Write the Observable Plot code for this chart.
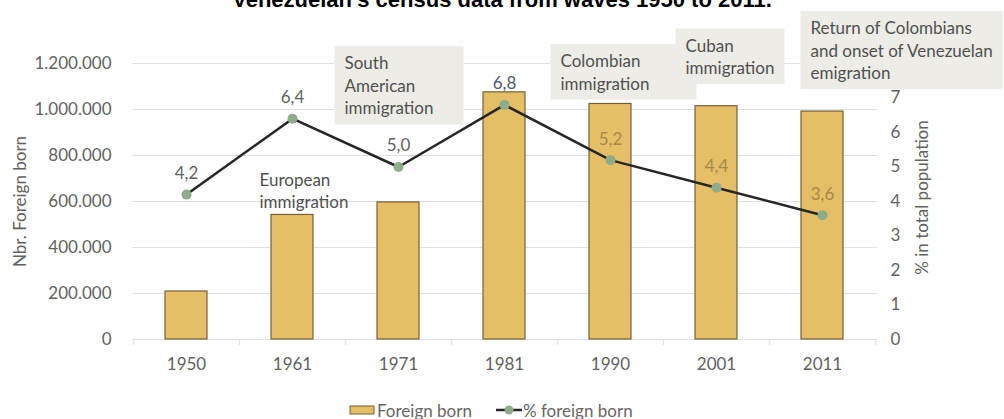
<!DOCTYPE html>
<html>
<head>
<meta charset="utf-8">
<script src="https://cdn.jsdelivr.net/npm/d3@7"></script>
<script src="https://cdn.jsdelivr.net/npm/@observablehq/plot@0.6"></script>
<style>
  html, body { margin: 0; padding: 0; background: #fff; overflow: hidden; }
  #wrap { position: relative; width: 1004px; height: 419px; font-family: Lato, "Open Sans", sans-serif; }
  #chart { position: absolute; left: 0; top: 0; }
  #title { position: absolute; left: 0; top: -10.6px; width: 1004px; text-align: center;
           font: bold 22px/22px "Liberation Sans", Arial, sans-serif; color: #000; white-space: nowrap; }
  #legend { position: absolute; left: 349px; top: 400px; height: 20px; display: flex; align-items: center;
            font-size: 17px; color: #666; white-space: nowrap; }
  #legend .item { display: flex; align-items: center; }
  #legend svg { display: block; }
</style>
</head>
<body>
<div id="wrap">
  <div id="chart"></div>
  <div id="title"></div>
  <div id="legend"></div>
</div>
<script>
// ---------- data ----------
const titleText = "Venezuelan's census data from waves 1950 to 2011.";
const years = ["1950", "1961", "1971", "1981", "1990", "2001", "2011"];
const foreignBorn = [208731, 541563, 596000, 1074629, 1024121, 1014318, 991000];
const pctForeign = [4.2, 6.4, 5.0, 6.8, 5.2, 4.4, 3.6];
const leftTicks = [0, 200000, 400000, 600000, 800000, 1000000, 1200000];
const rightTicks = [0, 1, 2, 3, 4, 5, 6, 7];
const rightMax = 8; // right axis top matching left 1.200.000
const leftMax = 1200000;
const leftAxisLabel = "Nbr. Foreign born";
const rightAxisLabel = "% in total population";
const seriesNames = ["Foreign born", "% foreign born"];

const annotationTexts = [
  "European\nimmigration",
  "South\nAmerican\nimmigration",
  "Colombian\nimmigration",
  "Cuban\nimmigration",
  "Return of Colombians\nand onset of Venezuelan\nemigration"
];
const annotationYears = ["1961", "1971", "1990", "2001", "2011"];
const annotationLevels = [739000, 1245000, 1255000, 1322000, 1398000];

// ---------- styling / layout ----------
const W = 1004, H = 419;
const mL = 132, mR = 127, mT = 63, mB = 80;
const barFill = "#e5bf66", barStroke = "#75613a";
const lineColor = "#262626", dotColor = "#8fab8c";
const gridColor = "#e0e0e0", textColor = "#626262";
const boxFill = "#edece6";
const annotDx = [-33, -54, -50, -31, -12];
const annotBoxed = [false, true, true, true, true];
const boxPadRight = [0, 30, 47, 10, 10];
const boxPad = {l: 10, t: 6, b: 6};

const pctFactor = leftMax / rightMax;
const locale = d3.formatLocale({decimal: ",", thousands: ".", grouping: [3], currency: ["", ""]});
const fmtInt = locale.format(",d");
const fmtPct = locale.format(".1f");

const data = years.map((y, i) => ({year: y, foreign: foreignBorn[i], pct: pctForeign[i], i}));
const step = (W - mL - mR) / years.length;

const annotMarks = annotationTexts.map((t, i) =>
  Plot.text([t], {
    x: () => annotationYears[i], y: () => annotationLevels[i],
    text: d => d, textAnchor: "start", lineAnchor: "top", lineHeight: 1.33,
    dx: annotDx[i], fill: "#505050", fontSize: 17
  })
);

const svg = Plot.plot({
  width: W, height: H,
  marginLeft: mL, marginRight: mR, marginTop: mT, marginBottom: mB,
  style: {fontFamily: "Lato, 'Open Sans', sans-serif", fontSize: "17px", color: textColor, background: "#fff"},
  x: {domain: years, paddingInner: 0.6, paddingOuter: 0.3},
  y: {domain: [0, leftMax]},
  marks: [
    Plot.gridY(leftTicks.slice(1), {stroke: gridColor, strokeOpacity: 1}),
    Plot.ruleY([0], {stroke: gridColor, strokeOpacity: 1}),
    Plot.ruleX(years, {x: d => d, y1: 0, y2: 0, insetBottom: -6, dx: -step / 2, stroke: gridColor}),
    Plot.ruleX([years[years.length - 1]], {x: d => d, y1: 0, y2: 0, insetBottom: -6, dx: step / 2, stroke: gridColor}),
    Plot.axisY({ticks: leftTicks, tickFormat: fmtInt, tickSize: 0, tickPadding: 21, label: null, fontSize: 17}),
    Plot.axisY({anchor: "right", ticks: rightTicks.map(v => v * pctFactor), tickFormat: d => String(Math.round(d / pctFactor)),
                tickSize: 0, tickPadding: 13, label: null, fontSize: 17}),
    Plot.axisX({tickSize: 0, tickPadding: 18, label: null, fontSize: 17}),
    Plot.text([leftAxisLabel], {frameAnchor: "left", textAnchor: "middle", dx: -112, rotate: -90, fill: textColor, fontSize: 17}),
    Plot.text([rightAxisLabel], {frameAnchor: "right", textAnchor: "middle", dx: 45, dy: -4, rotate: -90, fill: textColor, fontSize: 17}),
    Plot.barY(data, {x: "year", y: "foreign", fill: barFill, stroke: barStroke, strokeWidth: 1.2}),
    Plot.line(data, {x: "year", y: d => d.pct * pctFactor, stroke: lineColor, strokeWidth: 2.5}),
    Plot.dot(data, {x: "year", y: d => d.pct * pctFactor, r: 5, fill: dotColor, stroke: "none"}),
    Plot.text(data, {
      x: "year", y: d => d.pct * pctFactor, text: d => fmtPct(d.pct), dy: -21, fontSize: 17,
      fill: d => d.i >= 4 ? "#a8894a" : (d.i === 3 ? "#4d5d70" : textColor)
    }),
    ...annotMarks
  ]
});

document.getElementById("chart").append(svg);
document.getElementById("title").textContent = titleText;

// boxes behind annotation texts, sized from the rendered text
const NS = "http://www.w3.org/2000/svg";
svg.querySelectorAll("text").forEach(t => {
  const idx = annotationTexts.findIndex(s => t.textContent === s.replace(/\n/g, ""));
  if (idx < 0 || !annotBoxed[idx]) return;
  const bb = t.getBBox();
  const r = document.createElementNS(NS, "rect");
  r.setAttribute("x", bb.x - boxPad.l);
  r.setAttribute("y", bb.y - boxPad.t);
  r.setAttribute("width", bb.width + boxPad.l + boxPadRight[idx]);
  r.setAttribute("height", bb.height + boxPad.t + boxPad.b);
  r.setAttribute("fill", boxFill);
  if (t.getAttribute("transform")) r.setAttribute("transform", t.getAttribute("transform"));
  t.parentNode.insertBefore(r, t);
});

// legend
const legend = document.getElementById("legend");
legend.innerHTML = `
  <div class="item">
    <svg width="26" height="10"><rect x="1" y="1" width="24" height="8" fill="${barFill}" stroke="${barStroke}" stroke-width="1"/></svg>
    <span style="margin-left:2px">${seriesNames[0]}</span>
  </div>
  <div class="item" style="margin-left:23px">
    <svg width="28" height="12"><line x1="1" y1="6" x2="27" y2="6" stroke="${lineColor}" stroke-width="2.5"/><circle cx="14" cy="6" r="4.5" fill="${dotColor}"/></svg>
    <span>${seriesNames[1]}</span>
  </div>`;
</script>
</body>
</html>
